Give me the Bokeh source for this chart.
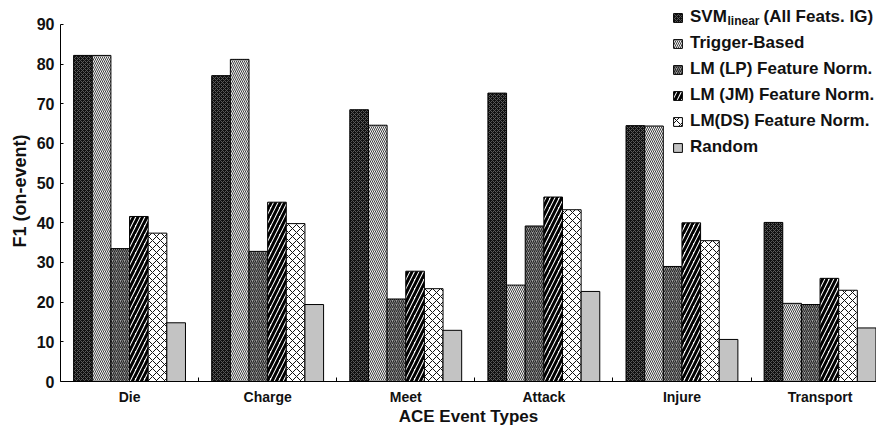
from bokeh.plotting import figure
from bokeh.models import (Range1d, FixedTicker, Legend, LegendItem, Label,
                          ColumnDataSource)
from bokeh.embed import file_html
from bokeh.resources import INLINE

categories = ["Die", "Charge", "Meet", "Attack", "Injure", "Transport"]
svm_linear = [82.2, 77.1, 68.5, 72.7, 64.5, 40.1]
trigger_based = [82.2, 81.2, 64.6, 24.3, 64.4, 19.7]
lm_lp = [33.5, 32.8, 20.8, 39.2, 29.0, 19.4]
lm_jm = [41.6, 45.2, 27.8, 46.5, 40.0, 26.0]
lm_ds = [37.4, 39.8, 23.4, 43.3, 35.5, 23.0]
random_f1 = [14.8, 19.4, 12.9, 22.7, 10.6, 13.5]
y_ticks = [0, 10, 20, 30, 40, 50, 60, 70, 80, 90]

series = [
    ("SVM", svm_linear,
     dict(fill_color="#101010", hatch_pattern="diagonal_cross", hatch_color="#5a5a5a",
          hatch_scale=4, hatch_weight=1)),
    ("Trigger-Based", trigger_based,
     dict(fill_color="#f4f4f4", hatch_pattern="left_diagonal_line", hatch_color="#404040",
          hatch_scale=4, hatch_weight=1)),
    ("LM (LP) Feature Norm.", lm_lp,
     dict(fill_color="#a0a0a0", hatch_pattern="right_diagonal_line", hatch_color="#222222",
          hatch_scale=4, hatch_weight=1.1)),
    ("LM (JM) Feature Norm.", lm_jm,
     dict(fill_color="white", hatch_pattern="right_diagonal_line", hatch_color="black",
          hatch_scale=9, hatch_weight=3)),
    ("LM(DS) Feature Norm.", lm_ds,
     dict(fill_color="white", hatch_pattern="diagonal_cross", hatch_color="#111111",
          hatch_scale=8, hatch_weight=1)),
    ("Random", random_f1,
     dict(fill_color="#c3c3c3")),
]

FONT = "Liberation Sans"
PITCH = 138.1      # px per category
PX_PER_UNIT = 3.967
FRAME_H = 381

p = figure(width=876, height=422, frame_width=816, frame_height=FRAME_H,
           output_backend="svg", toolbar_location=None,
           x_range=Range1d(-0.5, -0.5 + 816 / PITCH),
           y_range=Range1d(0, FRAME_H / PX_PER_UNIT),
           min_border_left=60, min_border_right=0, min_border_top=0,
           min_border_bottom=41)
p.outline_line_color = None
p.grid.grid_line_color = None
p.background_fill_color = "white"

bar_w = 0.135
items = []
for k, (name, vals, style) in enumerate(series):
    off = (k - 2.5) * bar_w
    src = ColumnDataSource(dict(x=[i + off for i in range(len(categories))], top=vals))
    r = p.vbar(x="x", top="top", width=bar_w, source=src, line_color="black",
               line_width=1, **style)
    items.append(LegendItem(label=name, renderers=[r]))

legend = Legend(items=items, location=(612, 224), padding=0, margin=0, spacing=6,
                glyph_width=11, glyph_height=11, label_height=18, label_standoff=7,
                label_text_font=FONT, label_text_font_style="bold",
                label_text_font_size="17px", label_text_color="#111111",
                border_line_color=None, background_fill_alpha=0)
p.add_layout(legend, "center")

def dx(px):
    return -0.5 + (px - 60) / PITCH

def dy(py):
    return (381 - py) / PX_PER_UNIT

p.add_layout(Label(x=dx(727), y=dy(20), text="linear", text_font=FONT,
                   text_font_style="bold", text_font_size="12px", text_color="#111111",
                   text_baseline="middle"))
p.add_layout(Label(x=dx(763), y=dy(16), text="(All Feats. IG)", text_font=FONT,
                   text_font_style="bold", text_font_size="17px", text_color="#111111",
                   text_baseline="middle"))

# x axis
xa = p.xaxis[0]
xa.ticker = FixedTicker(ticks=list(range(len(categories))),
                        minor_ticks=[i + 0.5 for i in range(len(categories) - 1)])
xa.major_label_overrides = {i: c for i, c in enumerate(categories)}
xa.major_tick_line_color = None
xa.major_tick_in = 0
xa.major_tick_out = 0
xa.minor_tick_in = 4
xa.minor_tick_out = 0
xa.minor_tick_line_color = "black"
xa.axis_line_color = "black"
xa.major_label_text_font = FONT
xa.major_label_text_font_style = "bold"
xa.major_label_text_font_size = "14px"
xa.major_label_text_color = "#111111"
xa.major_label_standoff = 7
xa.axis_label = "ACE Event Types"
xa.axis_label_text_font = FONT
xa.axis_label_text_font_style = "bold"
xa.axis_label_text_font_size = "17px"
xa.axis_label_text_color = "#111111"
xa.axis_label_standoff = -1

# y axis
ya = p.yaxis[0]
ya.ticker = FixedTicker(ticks=y_ticks)
ya.bounds = (0, 90)
ya.minor_tick_line_color = None
ya.major_tick_in = 3
ya.major_tick_out = 0
ya.major_tick_line_color = "black"
ya.axis_line_color = "black"
ya.major_label_text_font = FONT
ya.major_label_text_font_style = "bold"
ya.major_label_text_font_size = "16px"
ya.major_label_text_color = "#111111"
ya.major_label_standoff = 6
ya.axis_label = "F1 (on-event)"
ya.axis_label_text_font = FONT
ya.axis_label_text_font_style = "bold"
ya.axis_label_text_font_size = "18px"
ya.axis_label_text_color = "#111111"
ya.axis_label_standoff = 4

open("out.html", "w").write(file_html(p, INLINE))
